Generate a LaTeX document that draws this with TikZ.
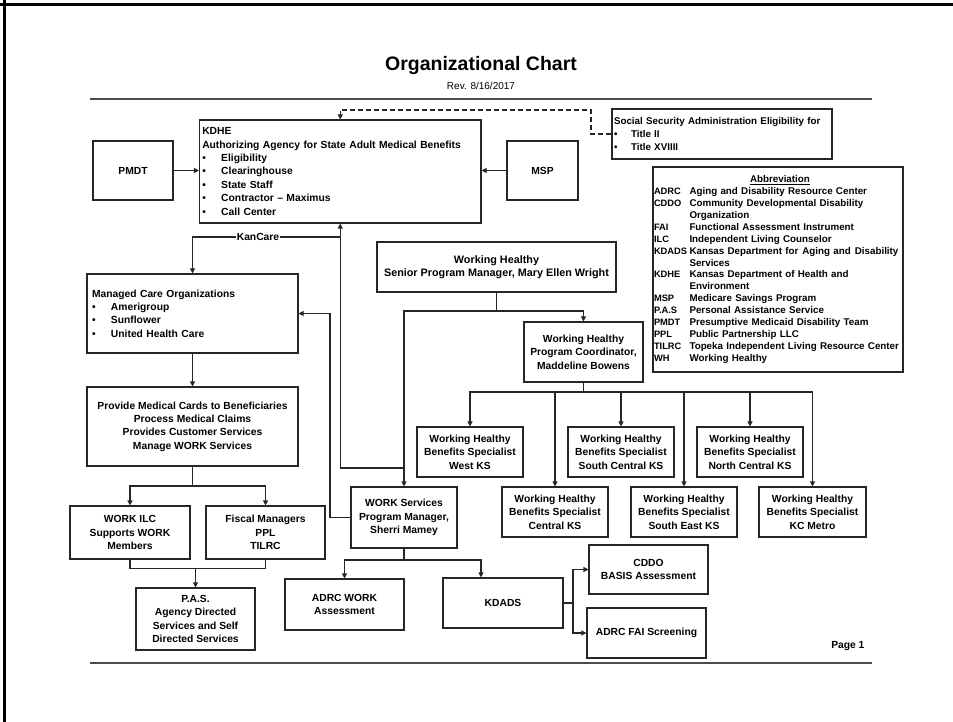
\documentclass[tikz,border=0pt]{standalone}
\usepackage{fontspec}
\setmainfont{Liberation Sans}
\usetikzlibrary{arrows.meta}
\newcommand\bxf{\fontsize{10.3}{13.4}\selectfont\bfseries}
\newcommand\abf{\fontsize{9.8}{11.9}\selectfont\bfseries}
\newcommand\bul[1]{\makebox[#1][l]{\textbullet}}
\newcommand\ab[1]{\makebox[35.5pt][l]{\fontsize{9.3}{11.9}\selectfont #1}}
\begin{document}
\begin{tikzpicture}[x=1pt,y=-1pt,
  box/.style={draw=black!85, line width=1.1pt, font=\bxf, align=center, inner sep=2pt},
  lbox/.style={box, align=left},
  conn/.style={draw=black!85, line width=1.1pt},
  arr/.style={conn, -{Triangle[length=5pt,width=5pt]}},
  dsh/.style={arr, dash pattern=on 5pt off 3pt},
  rule/.style={draw=black!70, line width=1.5pt}]
\useasboundingbox (0,0) rectangle (953,722);
\fill[white] (0,0) rectangle (953,722);
% page frame
\draw[line width=3pt] (0,4.5) -- (953,4.5);
\draw[line width=3pt] (4.5,0) -- (4.5,722);
% title
\node[font=\fontsize{19.5}{22}\selectfont\bfseries] (title) at (481,66) {Organizational Chart};
\node[font=\fontsize{10}{12}\selectfont] (rev) at (481,86) {Rev. 8/16/2017};
\draw[rule] (90,99) -- (872,99);
\draw[rule] (90,663) -- (872,663);
\node[font=\bxf, anchor=east] (page) at (868,646) {Page 1};

% top row
\node[box, minimum width=80pt, minimum height=59pt] (pmdt) at (133,170.5) {PMDT};
\node[lbox, text width=276pt, inner xsep=2.75pt, minimum width=281.5pt, minimum height=103pt] (kdhe) at (340.25,171.5)
  {KDHE\\\mbox{Authorizing Agency for State Adult Medical Benefits}\\
   \bul{19pt}Eligibility\\ \bul{19pt}Clearinghouse\\ \bul{19pt}State Staff\\
   \bul{19pt}Contractor -- Maximus\\ \bul{19pt}Call Center};
\node[box, minimum width=71pt, minimum height=59pt] (msp) at (542.5,170.5) {MSP};
\node[lbox, font=\fontsize{9.8}{13}\selectfont\bfseries, text width=216pt, inner xsep=2pt, minimum width=220pt, minimum height=50pt] (ssa) at (722,134)
  {\mbox{Social Security Administration Eligibility for}\\ \bul{17pt}Title II\\ \bul{17pt}Title XVIIII};
\node[lbox, font=\abf, text width=248pt, inner xsep=1pt, minimum width=250pt, minimum height=205pt] (abbr) at (778,269.5)
  {\hspace*{96pt}\underline{Abbreviation}\\
   \ab{ADRC}\mbox{Aging and Disability Resource Center}\\
   \ab{CDDO}\mbox{Community Developmental Disability}\\
   \ab{}Organization\\
   \ab{FAI}\mbox{Functional Assessment Instrument}\\
   \ab{ILC}\mbox{Independent Living Counselor}\\
   \ab{KDADS}\mbox{Kansas Department for\hspace{4pt}Aging and\hspace{4pt}Disability}\\
   \ab{}Services\\
   \ab{KDHE}\mbox{Kansas Department of Health and}\\
   \ab{}Environment\\
   \ab{MSP}\mbox{Medicare Savings Program}\\
   \ab{P.A.S}\mbox{Personal Assistance Service}\\
   \ab{PMDT}\mbox{Presumptive Medicaid Disability Team}\\
   \ab{PPL}\mbox{Public Partnership LLC}\\
   \ab{TILRC}\mbox{Topeka Independent Living Resource Center}\\
   \ab{WH}\mbox{Working Healthy}};

% left column
\node[lbox, text width=201pt, inner xsep=5pt, minimum width=211pt, minimum height=79pt] (mco) at (192.5,313.5)
  {Managed Care Organizations\\ \bul{19pt}Amerigroup\\ \bul{19pt}Sunflower\\ \bul{19pt}United Health Care};
\node[box, minimum width=211pt, minimum height=79pt] (prov) at (192.5,426.5)
  {Provide Medical Cards to Beneficiaries\\Process Medical Claims\\Provides Customer Services\\Manage WORK Services};
\node[box, minimum width=120pt, minimum height=53pt] (wilc) at (130,532.5) {WORK ILC\\Supports WORK\\Members};
\node[box, minimum width=119pt, minimum height=53pt] (fisc) at (265.5,532.5) {Fiscal Managers\\PPL\\TILRC};
\node[box, minimum width=119pt, minimum height=62pt] (pas) at (195.5,619) {P.A.S.\\Agency Directed\\Services and Self\\Directed Services};

% working healthy
\node[box, font=\fontsize{10.8}{13.4}\selectfont\bfseries, minimum width=239pt, minimum height=50pt] (senior) at (496.5,267) {Working Healthy\\Senior Program Manager, Mary Ellen Wright};
\node[box, minimum width=119pt, minimum height=60pt] (pc) at (583.5,352) {Working Healthy\\Program Coordinator,\\Maddeline Bowens};
\node[box, minimum width=106pt, minimum height=50pt] (wks) at (470,452) {Working Healthy\\Benefits Specialist\\West KS};
\node[box, minimum width=106pt, minimum height=50pt] (scks) at (621,452) {Working Healthy\\Benefits Specialist\\South Central KS};
\node[box, minimum width=106pt, minimum height=50pt] (ncks) at (750,452) {Working Healthy\\Benefits Specialist\\North Central KS};
\node[box, minimum width=106pt, minimum height=50pt] (cks) at (555,512) {Working Healthy\\Benefits Specialist\\Central KS};
\node[box, minimum width=106pt, minimum height=50pt] (seks) at (684,512) {Working Healthy\\Benefits Specialist\\South East KS};
\node[box, minimum width=107pt, minimum height=50pt] (kcm) at (812.5,512) {Working Healthy\\Benefits Specialist\\KC Metro};

% work services
\node[box, minimum width=106pt, minimum height=61pt] (work) at (404,517.5) {WORK Services\\Program Manager,\\Sherri Mamey};
\node[box, minimum width=119pt, minimum height=51pt] (adrcw) at (344.5,604.5) {ADRC WORK\\Assessment};
\node[box, minimum width=120pt, minimum height=50pt] (kdads) at (503,603) {KDADS};
\node[box, minimum width=119pt, minimum height=49pt] (cddo) at (648.5,569.5) {CDDO\\BASIS Assessment};
\node[box, minimum width=119pt, minimum height=50pt] (adrcf) at (646.5,633) {ADRC FAI Screening};

% junction coordinates
\coordinate (dA) at (591,110);
\coordinate (kc) at (340,237);
\coordinate (jW) at (404,468);
\coordinate (tS) at (496.5,311);
\coordinate (bP) at (583.5,392);
\coordinate (bM) at (192.5,486);
\coordinate (bJ) at (195.5,568.5);
\coordinate (wM) at (330,313.5);
\coordinate (bW) at (404,560);
\coordinate (kA) at (481,560);
\coordinate (kJ) at (573,603);

% connectors
\draw[arr] (pmdt.east) -- (pmdt.east -| kdhe.west);
\draw[arr] (msp.west) -- (msp.west -| kdhe.east);
\draw[dsh] (ssa.west) -| (dA) -| (kdhe.north);
\draw[arr] (jW) -| (kdhe.south);
\draw[arr] (kc) -| (mco.north);
\node[font=\bxf, fill=white, inner sep=1pt] (kclab) at (258,237) {KanCare};
\draw[conn] (senior.south) -- (tS);
\draw[arr] (tS) -| (pc.north);
\draw[arr] (tS) -| (work.north);
\draw[conn] (pc.south) -- (bP);
\draw[arr] (bP) -| (wks.north);
\draw[arr] (bP) -| (cks.north);
\draw[arr] (bP) -| (scks.north);
\draw[arr] (bP) -| (seks.north);
\draw[arr] (bP) -| (ncks.north);
\draw[arr] (bP) -| (kcm.north);
\draw[arr] (mco.south) -- (prov.north);
\draw[conn] (prov.south) -- (bM);
\draw[arr] (bM) -| (wilc.north);
\draw[arr] (bM) -| (fisc.north);
\draw[conn] (wilc.south) |- (bJ);
\draw[conn] (fisc.south) |- (bJ);
\draw[arr] (bJ) -- (pas.north);
\draw[arr] (work.west) -| (wM) -- (wM -| mco.east);
\draw[conn] (work.south) -- (bW);
\draw[arr] (bW) -| (adrcw.north);
\draw[arr] (bW) -- (kA) -- (kA |- kdads.north);
\draw[conn] (kdads.east) -- (kJ);
\draw[arr] (kJ) |- (cddo.west);
\draw[arr] (kJ) |- (adrcf.west);
\end{tikzpicture}
\end{document}
